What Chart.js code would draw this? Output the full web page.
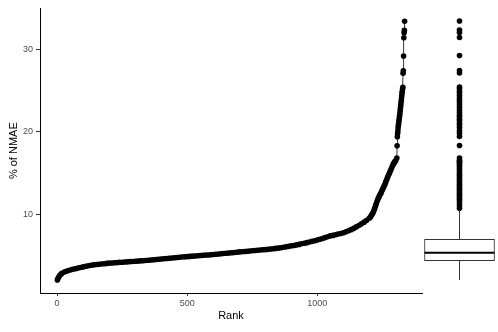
<!DOCTYPE html>
<html>
<head>
<meta charset="utf-8">
<script src="https://cdn.jsdelivr.net/npm/chart.js@4"></script>
<style>
  body { margin: 0; background: #fff; }
  #wrap { position: relative; width: 498px; height: 332px; }
  canvas { position: absolute; top: 0; }
  #rankChart { left: 0; }
  #boxChart { left: 421px; }
</style>
</head>
<body>
<div id="wrap">
  <canvas id="rankChart" width="498" height="332"></canvas>
  <canvas id="boxChart" width="77" height="332"></canvas>
</div>
<script>
// ranks (sorted) and their % of NMAE
const rank = [
  1, 3, 6, 10, 15, 20, 30, 40, 50, 60, 70, 80, 90, 100, 110, 120, 130, 140, 150, 160,
  170, 180, 190, 200, 210, 220, 230, 240, 250, 260, 270, 280, 290, 300, 310, 320, 330, 340, 350, 360,
  370, 380, 390, 400, 410, 420, 430, 440, 450, 460, 470, 480, 490, 500, 510, 520, 530, 540, 550, 560,
  570, 580, 590, 600, 610, 620, 630, 640, 650, 660, 670, 680, 690, 700, 710, 720, 730, 740, 750, 760,
  770, 780, 790, 800, 810, 820, 830, 840, 850, 860, 870, 880, 890, 900, 910, 920, 930, 940, 950, 960,
  970, 980, 990, 1000, 1010, 1020, 1030, 1040, 1050, 1060, 1070, 1080, 1090, 1100, 1110, 1120, 1130, 1140, 1150, 1160,
  1170, 1180, 1190, 1200, 1203, 1206, 1209, 1212, 1215, 1218, 1221, 1224, 1227, 1230, 1233, 1236, 1239, 1242, 1245, 1248,
  1251, 1254, 1257, 1260, 1263, 1266, 1269, 1272, 1275, 1278, 1281, 1284, 1287, 1290, 1293, 1296, 1299, 1302, 1306, 1307,
  1308, 1309, 1310, 1311, 1312, 1313, 1314, 1315, 1316, 1317, 1318, 1319, 1320, 1321, 1322, 1323, 1324, 1325, 1326, 1327,
  1328, 1329, 1330, 1331, 1332, 1333, 1334, 1335, 1336
];
const nmae = [
  2.00, 2.15, 2.35, 2.55, 2.72, 2.85, 3.00, 3.12, 3.22, 3.30, 3.38, 3.45, 3.52, 3.60, 3.67, 3.74, 3.80, 3.84, 3.88, 3.92,
  3.95, 3.98, 4.02, 4.05, 4.07, 4.10, 4.12, 4.15, 4.17, 4.19, 4.21, 4.24, 4.26, 4.28, 4.30, 4.33, 4.35, 4.37, 4.40, 4.43,
  4.46, 4.49, 4.52, 4.55, 4.58, 4.61, 4.64, 4.67, 4.70, 4.73, 4.76, 4.79, 4.82, 4.85, 4.87, 4.90, 4.92, 4.95, 4.98, 5.00,
  5.03, 5.05, 5.08, 5.10, 5.13, 5.16, 5.19, 5.22, 5.25, 5.28, 5.31, 5.35, 5.38, 5.42, 5.44, 5.47, 5.50, 5.52, 5.55, 5.58,
  5.61, 5.64, 5.67, 5.70, 5.73, 5.77, 5.80, 5.84, 5.88, 5.93, 5.98, 6.03, 6.09, 6.15, 6.20, 6.27, 6.33, 6.40, 6.47, 6.54,
  6.62, 6.70, 6.78, 6.87, 6.96, 7.05, 7.15, 7.25, 7.36, 7.42, 7.50, 7.58, 7.66, 7.74, 7.85, 7.98, 8.12, 8.27, 8.45, 8.63,
  8.82, 9.03, 9.25, 9.50, 9.60, 9.75, 9.90, 10.05, 10.20, 10.45, 10.70, 11.00, 11.25, 11.55, 11.80, 12.00, 12.20, 12.40, 12.55, 12.80,
  13.00, 13.20, 13.40, 13.60, 13.85, 14.10, 14.35, 14.60, 14.80, 15.00, 15.25, 15.45, 15.70, 15.90, 16.10, 16.25, 16.40, 16.50, 16.80, 18.30,
  19.40, 19.80, 20.10, 20.50, 20.80, 21.00, 21.30, 21.50, 21.80, 22.00, 22.30, 22.60, 22.90, 23.20, 23.50, 23.80, 24.10, 24.40, 24.70, 24.90,
  25.20, 25.40, 27.10, 27.40, 29.20, 31.40, 32.00, 32.30, 33.40
];

const xTicks = [0, 500, 1000];
const yTicks = [10, 20, 30];
const xRange = [-65.75, 1402.75];
const yRange = [0.43, 34.97];

// boxplot summary: lower whisker, Q1, median, Q3, upper whisker
const boxStats = [2.0, 4.35, 5.32, 6.94, 10.45];

const FONT = "'Liberation Sans', Arial, sans-serif";

const points = rank.map((r, i) => ({ x: r, y: nmae[i] }));

new Chart(document.getElementById('rankChart'), {
  type: 'scatter',
  data: {
    datasets: [{
      data: points,
      showLine: true,
      borderColor: '#000',
      borderWidth: 0.8,
      pointRadius: 2.8,
      pointBorderWidth: 0,
      pointBackgroundColor: '#000',
    }],
  },
  options: {
    responsive: false,
    animation: false,
    devicePixelRatio: 1,
    layout: { autoPadding: false, padding: { top: 8, right: 76, left: 0, bottom: 0 } },
    plugins: { legend: { display: false }, tooltip: { enabled: false } },
    scales: {
      x: {
        type: 'linear',
        min: xRange[0],
        max: xRange[1],
        afterBuildTicks: s => { s.ticks = xTicks.map(v => ({ value: v })); },
        afterFit: s => { s.height = 39; },
        ticks: { font: { family: FONT, size: 9 }, color: '#4d4d4d', padding: 2, maxRotation: 0, callback: v => String(v) },
        grid: { display: true, drawOnChartArea: false, drawTicks: true, tickLength: 3, color: '#333' },
        border: { display: true, color: '#000', width: 1 },
        title: { display: true, text: 'Rank', font: { family: FONT, size: 11 }, color: '#000', padding: { top: 0, bottom: 9 } },
      },
      y: {
        type: 'linear',
        min: yRange[0],
        max: yRange[1],
        afterBuildTicks: s => { s.ticks = yTicks.map(v => ({ value: v })); },
        afterFit: s => { s.width = 40; },
        ticks: { font: { family: FONT, size: 9 }, color: '#4d4d4d', padding: 3, callback: v => String(v) },
        grid: { display: true, drawOnChartArea: false, drawTicks: true, tickLength: 4, color: '#333' },
        border: { display: true, color: '#000', width: 1 },
        title: { display: true, text: '% of NMAE', font: { family: FONT, size: 11 }, color: '#000', padding: { top: 7, bottom: 0 } },
      },
    },
  },
});

const outliers = nmae.filter(v => v > boxStats[4]).map(v => ({ x: 0.5, y: v }));

new Chart(document.getElementById('boxChart'), {
  type: 'scatter',
  data: {
    datasets: [
      {
        // whiskers
        type: 'line',
        data: [{ x: 0.5, y: boxStats[0] }, { x: 0.5, y: boxStats[1] }, { x: 0.5, y: null },
               { x: 0.5, y: boxStats[3] }, { x: 0.5, y: boxStats[4] }],
        borderColor: '#333',
        borderWidth: 1,
        pointRadius: 0,
        spanGaps: false,
        order: 4,
      },
      {
        // box Q1..Q3
        type: 'bar',
        data: [{ x: 0.5, y: [boxStats[1], boxStats[3]] }],
        backgroundColor: '#fff',
        borderColor: '#333',
        borderWidth: 1,
        borderSkipped: false,
        barThickness: 70,
        order: 3,
      },
      {
        // median
        type: 'scatter',
        data: [{ x: 0.5, y: boxStats[2] }],
        pointStyle: 'line',
        pointRadius: 35,
        borderColor: '#000',
        pointBorderWidth: 2,
        order: 2,
      },
      {
        type: 'scatter',
        data: outliers,
        pointRadius: 2.8,
        pointBorderWidth: 0,
        pointBackgroundColor: '#000',
        order: 1,
      },
    ],
  },
  options: {
    responsive: false,
    animation: false,
    devicePixelRatio: 1,
    layout: { autoPadding: false, padding: { top: 8, bottom: 39, left: 0, right: 0 } },
    plugins: { legend: { display: false }, tooltip: { enabled: false } },
    scales: {
      x: { type: 'linear', display: false, min: 0, max: 1, offset: false },
      y: { type: 'linear', display: false, min: yRange[0], max: yRange[1] },
    },
  },
});
</script>
</body>
</html>
